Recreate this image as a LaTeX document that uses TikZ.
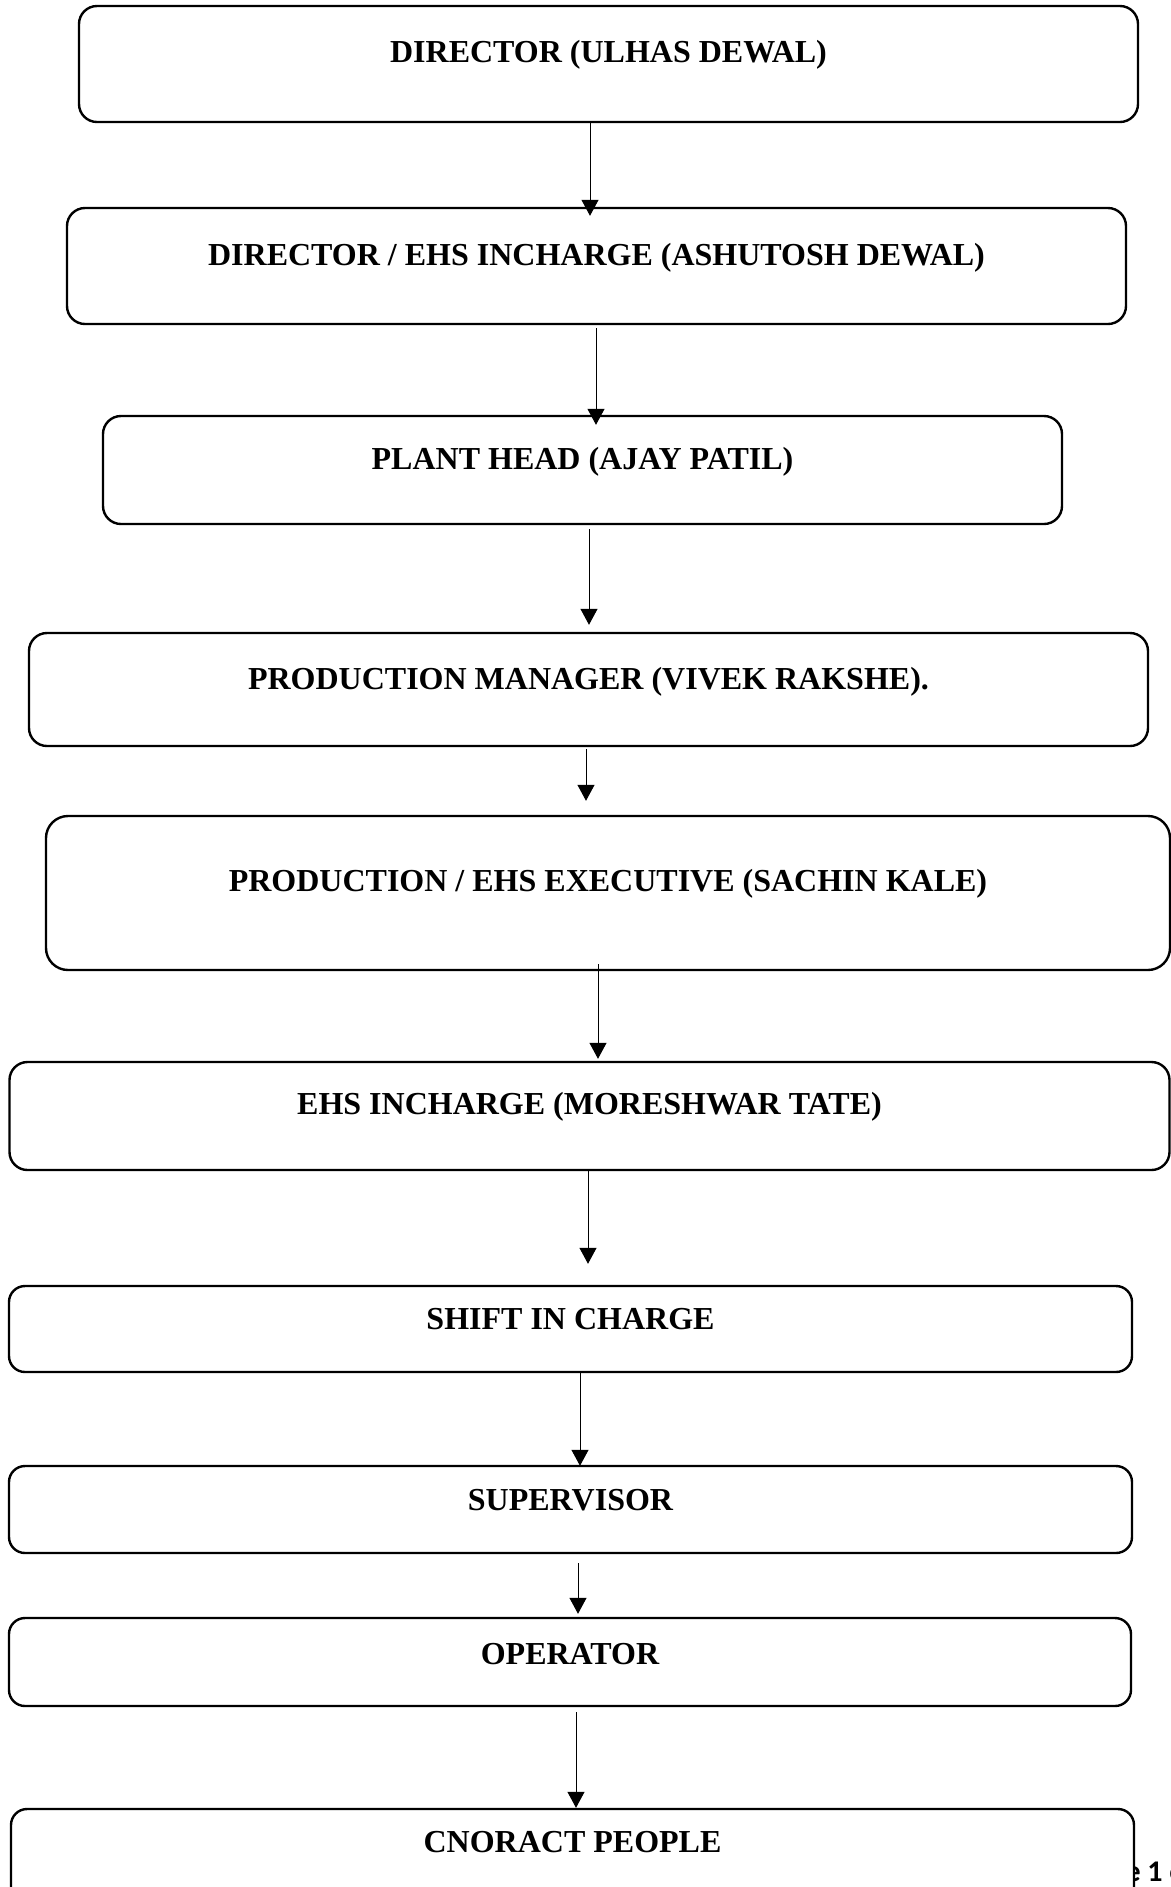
\documentclass[tikz,border=0pt]{standalone}
\usepackage{fontspec}
\setmainfont{Liberation Serif}
\newfontfamily\footfont{Carlito}
\usetikzlibrary{arrows.meta}

\begin{document}
\begin{tikzpicture}[x=0.5pt, y=-0.5pt,
    orgbox/.style={draw, line width=1.2pt, rounded corners=9pt, inner sep=0pt, fill=white},
    title/.style={anchor=base, inner sep=0pt, font=\fontsize{16}{19}\selectfont\bfseries},
    arr/.style={-{Triangle[length=8pt, width=8.5pt]}, line width=0.5pt}]
    \useasboundingbox (0,0) rectangle (1171,1887);
    \clip (0,0) rectangle (1171,1887);

    % boxes, top to bottom
    \node[orgbox, minimum width=529.5pt, minimum height=58pt] (b1) at (608.5,64) {};
    \node[title] (t1) at ([yshift=-29pt]b1.north) {DIRECTOR (ULHAS DEWAL)};
    \node[orgbox, minimum width=529.5pt, minimum height=58pt] (b2) at (596.5,266) {};
    \node[title] (t2) at ([yshift=-29.25pt]b2.north) {DIRECTOR / EHS INCHARGE (ASHUTOSH DEWAL)};
    \node[orgbox, minimum width=479.5pt, minimum height=54pt] (b3) at (582.5,470) {};
    \node[title] (t3) at ([yshift=-27.25pt]b3.north) {PLANT HEAD (AJAY PATIL)};
    \node[orgbox, minimum width=559.5pt, minimum height=56.5pt] (b4) at (588.5,689.5) {};
    \node[title] (t4) at ([yshift=-28.75pt]b4.north) {PRODUCTION MANAGER (VIVEK RAKSHE).};
    \node[orgbox, minimum width=562pt, minimum height=77pt, rounded corners=11pt] (b5) at (608,893) {};
    \node[title] (t5) at ([yshift=-38.25pt]b5.north) {PRODUCTION / EHS EXECUTIVE (SACHIN KALE)};
    \node[orgbox, minimum width=580pt, minimum height=54pt] (b6) at (589.5,1116) {};
    \node[title] (t6) at ([yshift=-26.75pt]b6.north) {EHS INCHARGE (MORESHWAR TATE)};
    \node[orgbox, minimum width=561.5pt, minimum height=43pt, rounded corners=8pt] (b7) at (570.5,1329) {};
    \node[title] (t7) at ([yshift=-22.25pt]b7.north) {SHIFT IN CHARGE};
    \node[orgbox, minimum width=561.5pt, minimum height=43.5pt, rounded corners=8pt] (b8) at (570.5,1509.5) {};
    \node[title] (t8) at ([yshift=-22.75pt]b8.north) {SUPERVISOR};
    \node[orgbox, minimum width=561pt, minimum height=44pt, rounded corners=8pt] (b9) at (570,1662) {};
    \node[title] (t9) at ([yshift=-23.75pt]b9.north) {OPERATOR};

    % page footer, partly under the last box
    \node[anchor=base east, inner sep=0pt, font=\footfont\fontsize{15}{18}\selectfont\bfseries] (pg) at (1141,1881) {Page\rlap{ 1 of 1}};
    \node[orgbox, minimum width=561.5pt, minimum height=60.5pt, rounded corners=8pt] (b10) at (572.5,1869.5) {};
    \node[title] (t10) at ([yshift=-22.25pt]b10.north) {CNORACT PEOPLE};

    % arrows
    \draw[arr] ([xshift=-9.25pt]b1.south) -- ([xshift=-3.25pt, yshift=-4.5pt]b2.north);
    \draw[arr] ([xshift=-0.25pt, yshift=-1.5pt]b2.south) -- ([xshift=6.75pt, yshift=-5pt]b3.north);
    \draw[arr] ([xshift=3.25pt, yshift=-2pt]b3.south) -- ([xshift=0.25pt, yshift=3.5pt]b4.north);
    \draw[arr] ([xshift=-1.25pt, yshift=-1pt]b4.south) -- ([xshift=-11pt, yshift=7pt]b5.north);
    \draw[arr] ([xshift=-5pt, yshift=3.5pt]b5.south) -- ([xshift=4.25pt, yshift=1pt]b6.north);
    \draw[arr] ([xshift=-0.75pt]b6.south) -- ([xshift=8.75pt, yshift=10.5pt]b7.north);
    \draw[arr] ([xshift=4.75pt]b7.south) -- ([xshift=4.75pt, yshift=-0.5pt]b8.north);
    \draw[arr] ([xshift=3.75pt, yshift=-4.5pt]b8.south) -- ([xshift=4pt, yshift=1.5pt]b9.north);
    \draw[arr] ([xshift=3pt, yshift=-2.5pt]b9.south) -- ([xshift=1.75pt]b10.north);
\end{tikzpicture}
\end{document}
